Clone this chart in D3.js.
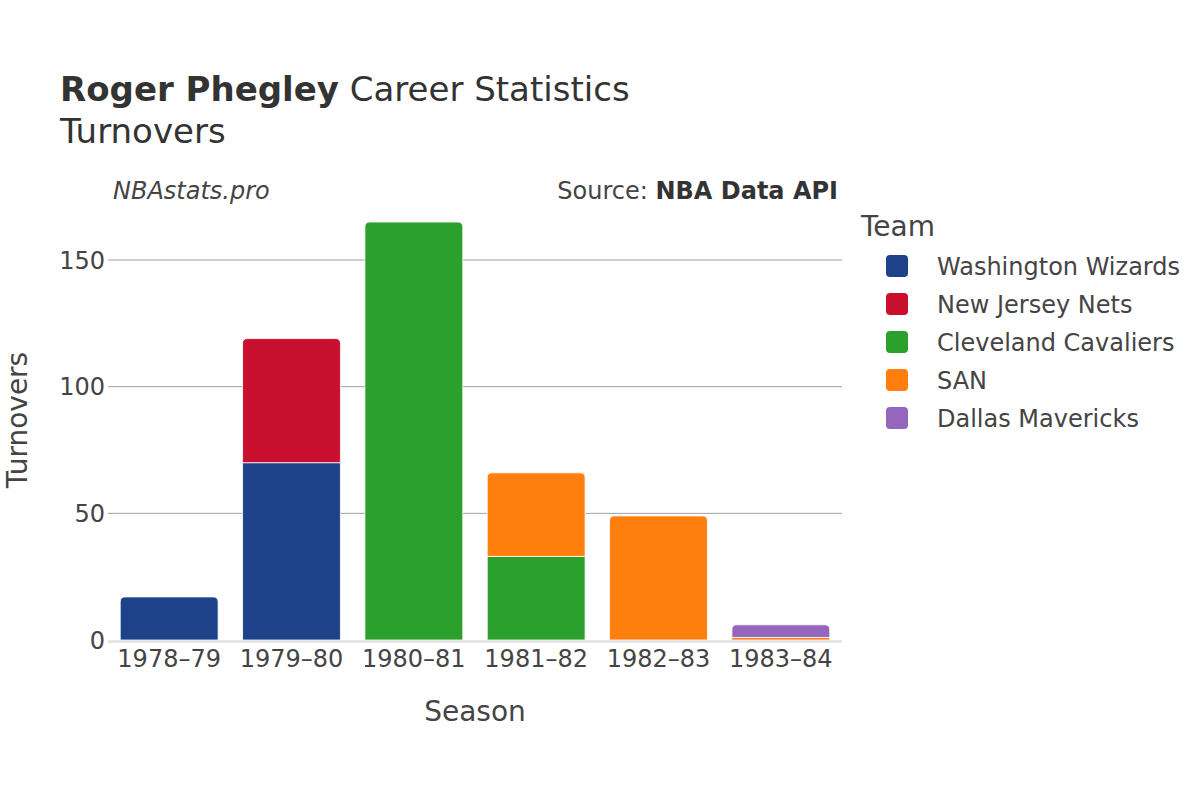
<!DOCTYPE html>
<html><head><meta charset="utf-8">
<script src="https://cdn.jsdelivr.net/npm/d3@7"></script>
<style>body{margin:0;background:#fff;} text{font-family:"DejaVu Sans",sans-serif;}</style>
</head><body>
<svg id="chart" width="1200" height="800"></svg>
<script>
const seasons = ["1978–79","1979–80","1980–81","1981–82","1982–83","1983–84"];
const teams = ["Washington Wizards","New Jersey Nets","Cleveland Cavaliers","SAN","Dallas Mavericks"];
const teamColors = ["#1d428a","#c8102e","#2ca02c","#ff7f0e","#9467bd"];
const washington = [17,70,0,0,0,0];
const newJersey = [0,49,0,0,0,0];
const cleveland = [0,0,165,33,0,0];
const sanDiego = [0,0,0,33,49,1];
const dallas = [0,0,0,0,0,5];
const yTicks = [0,50,100,150];

const series = [washington,newJersey,cleveland,sanDiego,dallas];
const svg = d3.select("#chart");
const m = {l:108, r:842, t:200, b:640};
const x = d3.scaleBand().domain(seasons).range([m.l,m.r]).paddingInner(0.2).paddingOuter(0.1);
const y = d3.scaleLinear().domain([0,173.7]).range([m.b,m.t]);

// grid
svg.append("g").selectAll("line").data(yTicks.filter(d=>d>0)).join("line")
  .attr("x1",m.l).attr("x2",m.r).attr("y1",d=>y(d)).attr("y2",d=>y(d))
  .attr("stroke","#a0a0a0").attr("stroke-width",1);

// stacked data
const rows = seasons.map((s,i)=>{const o={season:s}; teams.forEach((t,j)=>o[t]=series[j][i]); return o;});
const stack = d3.stack().keys(teams)(rows);

function topRounded(x0,y0,w,h,r){
  r=Math.min(r,h,w/2);
  return `M${x0},${y0+h}V${y0+r}Q${x0},${y0} ${x0+r},${y0}H${x0+w-r}Q${x0+w},${y0} ${x0+w},${y0+r}V${y0+h}Z`;
}
const topIdx = seasons.map((s,i)=>{let k=-1; series.forEach((arr,j)=>{if(arr[i]>0)k=j;}); return k;});

const g = svg.append("g");
stack.forEach((layer,j)=>{
  layer.forEach((d,i)=>{
    if(d[1]-d[0]<=0) return;
    const x0=x(seasons[i]), w=x.bandwidth(), y0=y(d[1]), h=y(d[0])-y(d[1]);
    const r = topIdx[i]===j ? 5 : 0;
    g.append("path").attr("d",topRounded(x0,y0,w,h,r))
      .attr("fill",teamColors[j]).attr("stroke","#fff").attr("stroke-width",0.8);
  });
});

// zero line
svg.append("line").attr("x1",m.l).attr("x2",m.r).attr("y1",y(0)+1.5).attr("y2",y(0)+1.5)
  .attr("stroke","#e6e6e6").attr("stroke-width",3);

// axes labels
svg.append("g").selectAll("text").data(yTicks).join("text")
  .attr("x",m.l-3).attr("y",d=>y(d)).attr("dy","0.36em").attr("text-anchor","end")
  .attr("font-size",24).attr("fill","#444").text(d=>d);
svg.append("g").selectAll("text").data(seasons).join("text")
  .attr("x",d=>x(d)+x.bandwidth()/2).attr("y",667).attr("text-anchor","middle")
  .attr("font-size",24).attr("fill","#444").text(d=>d);

svg.append("text").attr("x",475).attr("y",721).attr("text-anchor","middle")
  .attr("font-size",28).attr("fill","#444").text("Season");
svg.append("text").attr("transform","translate(27,420) rotate(-90)").attr("text-anchor","middle")
  .attr("font-size",28).attr("fill","#444").text("Turnovers");

// titles
const t = svg.append("text").attr("x",60).attr("y",101).attr("font-size",34).attr("fill","#333");
t.append("tspan").attr("font-weight","bold").text("Roger Phegley");
t.append("tspan").text(" Career Statistics");
svg.append("text").attr("x",60).attr("y",143).attr("font-size",34).attr("fill","#333").text("Turnovers");

svg.append("text").attr("x",113).attr("y",199).attr("font-size",24).attr("font-style","italic").attr("fill","#444").text("NBAstats.pro");
const src = svg.append("text").attr("x",838).attr("y",199).attr("text-anchor","end").attr("font-size",24).attr("fill","#444");
src.append("tspan").text("Source: ");
src.append("tspan").attr("font-weight","bold").attr("fill","#333").text("NBA Data API");

// legend
svg.append("text").attr("x",861).attr("y",236).attr("font-size",28).attr("fill","#444").text("Team");
const lg = svg.append("g").selectAll("g").data(teams).join("g")
  .attr("transform",(d,i)=>`translate(0,${266+i*38})`);
lg.append("rect").attr("x",886).attr("y",-11).attr("width",22).attr("height",22).attr("rx",4)
  .attr("fill",(d,i)=>teamColors[i]);
lg.append("text").attr("x",937).attr("y",0).attr("dy","0.36em").attr("font-size",24).attr("fill","#444").text(d=>d);
</script>
</body></html>
